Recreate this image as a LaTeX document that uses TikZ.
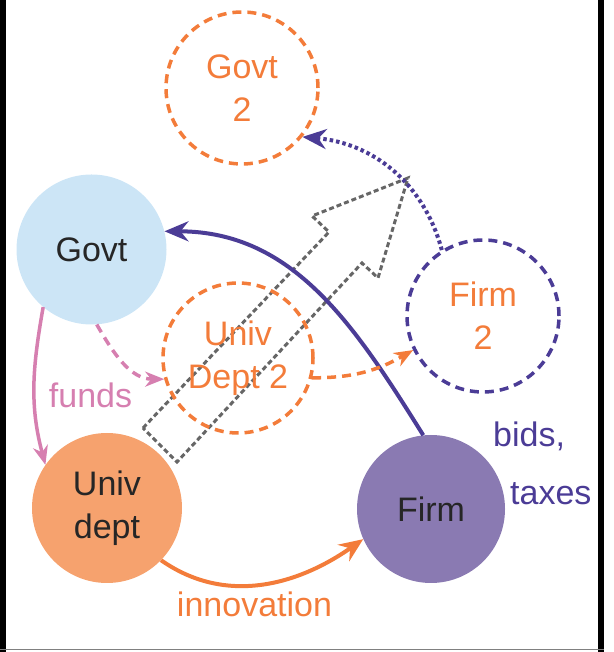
\documentclass[tikz,border=0pt]{standalone}
\usepackage{fontspec}
\setmainfont{Liberation Sans}
\usetikzlibrary{arrows.meta}
\definecolor{govtblue}{HTML}{CCE5F6}
\definecolor{univorange}{HTML}{F6A26E}
\definecolor{firmpurple}{HTML}{8A7AB2}
\definecolor{linepurple}{HTML}{4B3C96}
\definecolor{lineorange}{HTML}{F37C3A}
\definecolor{linepink}{HTML}{D67FB0}
\definecolor{arrowgray}{HTML}{666666}
\begin{document}
\begin{tikzpicture}[x=1pt,y=1pt,
  every node/.style={font=\fontsize{34}{43}\selectfont, inner sep=0pt},
  agent/.style={circle, minimum size=150pt, align=center, text=black!85},
  ghost/.style={circle, minimum size=152pt, align=center, draw=lineorange, line width=3.5pt, dash pattern=on 9pt off 6pt, text=lineorange},
  bigtip/.style={-{Stealth[length=24pt,width=20pt,inset=8pt]}},
  smalltip/.style={-{Stealth[length=19pt,width=15pt,inset=6pt]}}]
\useasboundingbox (0,0) rectangle (613,652);
\fill[black] (0,0) rectangle (6,652);
\fill[black] (598,0) rectangle (604,652);
\draw[gray, line width=1pt] (0,2) -- (604,2);

\draw[arrowgray, line width=3pt, dash pattern=on 5pt off 3pt, line join=miter]
  (143,224) -- (329,420) -- (312,436) -- (408,474) -- (378,374) -- (362,389) -- (177,190) -- cycle;

\node[agent, fill=govtblue] (govt) at (91.5,402.5) {Govt};
\node[agent, fill=univorange] (univ) at (107,144) {Univ\\dept};
\node[agent, fill=firmpurple, minimum size=148pt] (firm) at (431,143) {Firm};
\node[ghost] (govt2) at (242,564) {Govt\\2};
\node[ghost, minimum size=150pt] (univ2) at (238,294) {Univ\\Dept 2};
\node[ghost, draw=linepurple] (firm2) at (483,336) {Firm\\2};

\draw[linepurple, line width=4pt, bigtip] (firm.96) to[out=122,in=0] (govt.14);
\draw[linepurple, line width=4pt, dash pattern=on 3.5pt off 3pt, bigtip] (firm2.122) to[out=105,in=-5] (govt2.-39);
\draw[linepink, line width=3.5pt, smalltip] (govt.230) to[out=-100,in=105] (univ.145);
\draw[linepink, line width=3.5pt, dash pattern=on 9pt off 6pt, smalltip] (govt.-86) to[out=-60,in=180] (univ2.196);
\draw[lineorange, line width=3.5pt, dash pattern=on 9pt off 6pt, smalltip] (univ2.-15) to[out=0,in=210] (firm2.206);
\draw[lineorange, line width=4pt, bigtip] (univ.-44) to[out=-35,in=215] (firm.204);

\node[text=linepink, anchor=base] (funds) at (90.5,244) {funds};
\node[text=lineorange, anchor=base] (innovation) at (254.5,35) {innovation};
\node[text=linepurple, anchor=base west] (bids) at (493,205) {bids,};
\node[text=linepurple, anchor=base west] (taxes) at (510,147) {taxes};
\end{tikzpicture}
\end{document}
